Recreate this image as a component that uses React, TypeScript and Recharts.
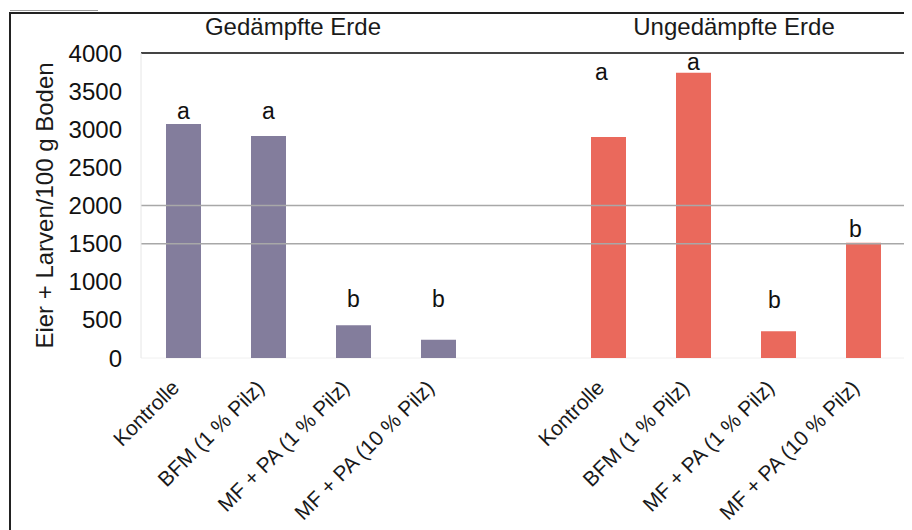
import React from "react";
import {
  BarChart,
  Bar,
  XAxis,
  YAxis,
  CartesianGrid,
  ReferenceLine,
  LabelList,
  Cell,
} from "recharts";

// Treatments, repeated for both soil types
const treatments = [
  "Kontrolle",
  "BFM (1 % Pilz)",
  "MF + PA (1 % Pilz)",
  "MF + PA (10 % Pilz)",
];

// Eggs + larvae per 100 g soil
const steamedSoil = [3070, 2910, 430, 240];
const unsteamedSoil = [2900, 3740, 350, 1510];

// Significance letters
const steamedLetters = ["a", "a", "b", "b"];
const unsteamedLetters = ["a", "a", "b", "b"];

const groupTitles = ["Gedämpfte Erde", "Ungedämpfte Erde"];
const yTicks = [0, 500, 1000, 1500, 2000, 2500, 3000, 3500, 4000];
const yLabel = "Eier + Larven/100 g Boden";

const COLORS = ["#837d9c", "#ea695c"];
const FONT = "'Liberation Sans', Arial, sans-serif";

// Letter placement above each bar: px between bar top and letter baseline, horizontal nudge
const letterLift: Record<string, number> = { g0: 5, g1: 17, g2: 18, g3: 33, u0: 57, u1: 3, u2: 23, u3: 6 };
const letterShift: Record<string, number> = { u0: -7, u2: -4, u3: -8 };

type Row = { key: string; label: string; value: number | null; letter: string; group: number };

const rows: Row[] = [
  ...treatments.map((t, i) => ({
    key: `g${i}`,
    label: t,
    value: steamedSoil[i],
    letter: steamedLetters[i],
    group: 0,
  })),
  { key: "gap", label: "", value: null, letter: "", group: -1 },
  ...treatments.map((t, i) => ({
    key: `u${i}`,
    label: t,
    value: unsteamedSoil[i],
    letter: unsteamedLetters[i],
    group: 1,
  })),
];

const rowByKey: Record<string, Row> = Object.fromEntries(rows.map((r) => [r.key, r]));

const CategoryTick = (props: any) => {
  const { x, y, payload } = props;
  const text = rowByKey[payload.value]?.label;
  if (!text) return null;
  return (
    <g transform={`translate(${x - 3},${y + 23})`}>
      <text
        x={0}
        y={0}
        textAnchor="end"
        transform="rotate(-45)"
        fontFamily={FONT}
        fontSize={21}
        fill="#1a1a1a"
      >
        {text}
      </text>
    </g>
  );
};

const LetterLabel = (props: any) => {
  const { x, y, width, value } = props;
  const row = rowByKey[value];
  if (!row || !row.letter) return null;
  const lift = letterLift[value] ?? 10;
  return (
    <text
      x={x + width / 2 + (letterShift[value] ?? 0)}
      y={y - lift}
      textAnchor="middle"
      fontFamily={FONT}
      fontSize={23}
      fill="#111"
    >
      {row.letter}
    </text>
  );
};

const YTitle = (props: any) => {
  const { viewBox } = props;
  const cx = 36;
  const cy = viewBox.y + viewBox.height / 2;
  return (
    <text
      x={cx}
      y={cy}
      transform={`rotate(-90, ${cx}, ${cy})`}
      textAnchor="middle"
      dominantBaseline="central"
      fontFamily={FONT}
      fontSize={24}
      fill="#1a1a1a"
    >
      {yLabel}
    </text>
  );
};

export default function App() {
  return (
    <div style={{ position: "relative", width: 904, height: 522, background: "#fff" }}>
      {/* frame */}
      <div style={{ position: "absolute", left: 2, top: 2, width: 88, height: 1, background: "#999" }} />
      <div style={{ position: "absolute", left: 2, top: 4, width: 902, height: 2, background: "#222" }} />
      <div style={{ position: "absolute", left: 1, top: 4, width: 2, height: 518, background: "#222" }} />
      {groupTitles.map((t, i) => (
        <div
          key={t}
          style={{
            position: "absolute",
            left: i === 0 ? 165 : 606,
            top: 5,
            width: 240,
            textAlign: "center",
            fontFamily: FONT,
            fontSize: 24,
            color: "#1a1a1a",
            whiteSpace: "nowrap",
          }}
        >
          {t}
        </div>
      ))}
      <div style={{ position: "absolute", left: 0, top: 0 }}>
        <BarChart
          width={904}
          height={522}
          data={rows}
          margin={{ top: 45, right: 0, bottom: 0, left: 0 }}
          barSize={35}
        >
          <CartesianGrid horizontal vertical={false} stroke="#f0f0f0" />
          <XAxis
            dataKey="key"
            interval={0}
            height={172}
            axisLine={false}
            tickLine={false}
            tick={<CategoryTick />}
          />
          <YAxis
            yAxisId="left"
            domain={[0, 4000]}
            ticks={yTicks}
            interval={0}
            width={133}
            axisLine={{ stroke: "#e6e6e6" }}
            tickLine={false}
            tickSize={6}
            tickMargin={13}
            tick={{ fontFamily: FONT, fontSize: 24, fill: "#111" }}
            label={<YTitle />}
          />
          <YAxis
            yAxisId="right"
            orientation="right"
            domain={[0, 4000]}
            width={6}
            axisLine={{ stroke: "#e6e6e6" }}
            tickLine={false}
            tick={false}
          />
          <ReferenceLine yAxisId="left" y={2000} stroke="#a8a8a8" strokeWidth={1.5} />
          <ReferenceLine yAxisId="left" y={1500} stroke="#a8a8a8" strokeWidth={1.5} />
          <ReferenceLine yAxisId="left" y={4000} stroke="#444" strokeWidth={2} />
          <Bar yAxisId="left" dataKey="value" isAnimationActive={false}>
            {rows.map((r) => (
              <Cell key={r.key} fill={COLORS[r.group] ?? "transparent"} />
            ))}
            <LabelList dataKey="key" content={<LetterLabel />} />
          </Bar>
        </BarChart>
      </div>
    </div>
  );
}
